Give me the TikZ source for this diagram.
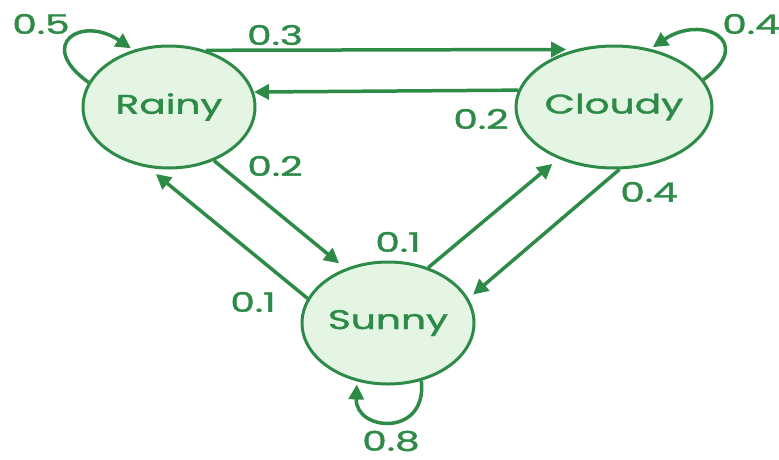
\documentclass[tikz,border=0pt]{standalone}
\usepackage{fontspec}
\setmainfont[FakeBold=1.2]{Poppins}
\usepackage{tikz}
\usetikzlibrary{shapes.geometric, arrows.meta}
\definecolor{leaf}{RGB}{46, 139, 71}
\definecolor{mint}{RGB}{228, 245, 228}
% text is stretched sideways like the states
\newcommand*{\wide}[1]{\scalebox{1.45}[1]{#1}}

\begin{document}
\begin{tikzpicture}[
   x=1pt, y=-1pt,
   state/.style={ellipse, draw=leaf, fill=mint, line width=3, text=leaf,
                 minimum width=172, minimum height=122, inner sep=0,
                 font=\fontsize{27}{27}\selectfont},
   prob/.style={text=leaf, inner sep=0, font=\fontsize{27}{27}\selectfont},
   trans/.style={draw=leaf, line width=3.5, -{Triangle[length=15, width=15]}}
  ]

  \useasboundingbox (0, 0) rectangle (779, 459);

  \node (R) at (169, 107) [state] {\wide{Rainy}};
  \node (C) at (614, 107) [state] {\wide{Cloudy}};
  \node (S) at (388, 323) [state] {\wide{Sunny}};

  % straight transitions: from/to/shorten
  \foreach \B/\E/\s in {R.57/C.124/9, C.170/R.10/0,
                        R.-50/S.128/8, S.163/R.-109/10,
                        S.54/C.-137/8, C.-85/S.17/6} {
    \draw[trans, shorten >=\s] (\B) -- (\E);
  }

  % self loops
  \draw[trans, shorten >=3] (R.163) .. controls +(-53, -38) and +(-52, -35) .. (R.122);
  \draw[trans, shorten >=3] (C.17) .. controls +(53, -38) and +(52, -35) .. (C.58);
  \draw[trans, shorten >=3] (S.-60) .. controls +(6, 57) and +(-2, 50) .. (S.-118);

  % probabilities
  \node (pRR) at (41, 24) [prob] {\wide{0.5}};
  \node (pRC) at (275, 35) [prob] {\wide{0.3}};
  \node (pCC) at (751, 24) [prob] {\wide{0.4}};
  \node (pCR) at (481, 119) [prob] {\wide{0.2}};
  \node (pRS) at (275, 166) [prob] {\wide{0.2}};
  \node (pCS) at (649, 192) [prob] {\wide{0.4}};
  \node (pSC) at (398, 242) [prob] {\wide{0.1}};
  \node (pSR) at (253, 302) [prob] {\wide{0.1}};
  \node (pSS) at (391, 441) [prob] {\wide{0.8}};

\end{tikzpicture}
\end{document}
